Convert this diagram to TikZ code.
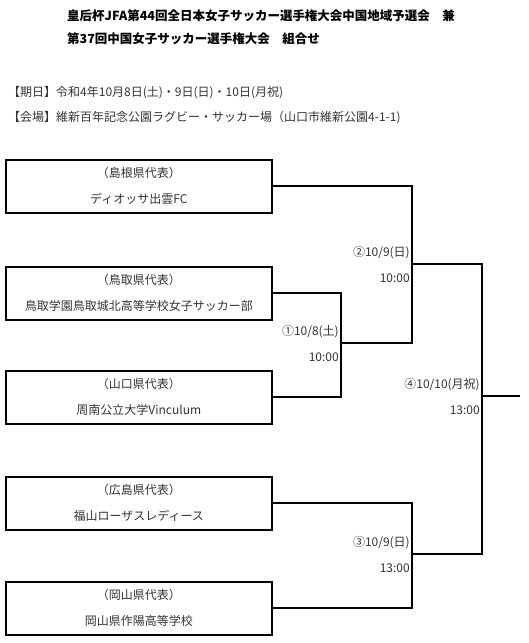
\documentclass[tikz,border=0pt]{standalone}
\usepackage{fontspec}
\setmainfont{Noto Sans CJK JP}
\usepackage{tikz}
\usetikzlibrary{positioning, calc}

\begin{document}
\begin{tikzpicture}[x=1pt, y=-1pt,
    team/.style={draw, line width=1.6pt, minimum width=266pt, minimum height=53pt,
                 anchor=north west, align=center, inner sep=0pt, text=black!80,
                 font=\fontsize{12}{26}\selectfont},
    match/.style={anchor=east, align=right, inner sep=0pt, text=black!80,
                  font=\fontsize{12}{26}\selectfont},
    info/.style={anchor=west, inner sep=0pt, text=black!80, font=\fontsize{12}{14}\selectfont},
    headline/.style={anchor=west, inner sep=0pt, font=\fontsize{12.5}{15}\selectfont\bfseries},
    bracket/.style={line width=1.8pt}]
    \useasboundingbox (0,0) rectangle (529,643);

    % Title and details
    \node[headline] (t1) at (67,16) {皇后杯JFA第44回全日本女子サッカー選手権大会中国地域予選会　兼};
    \node[headline] (t2) at (67,39) {第37回中国女子サッカー選手権大会　組合せ};
    \node[info] (date) at (8,93) {【期日】令和4年10月8日(土)・9日(日)・10日(月祝)};
    \node[info] (venue) at (8,118) {【会場】維新百年記念公園ラグビー・サッカー場（山口市維新公園4-1-1)};

    % Teams
    \node[team] (b1) at (5,159) {（島根県代表）\\ディオッサ出雲FC};
    \node[team] (b2) at (5,266) {（鳥取県代表）\\鳥取学園鳥取城北高等学校女子サッカー部};
    \node[team] (b3) at (5,370) {（山口県代表）\\周南公立大学Vinculum};
    \node[team] (b4) at (5,476) {（広島県代表）\\福山ローザスレディース};
    \node[team] (b5) at (5,581) {（岡山県代表）\\岡山県作陽高等学校};

    % Match joins
    \coordinate (m1) at (341,343);
    \coordinate (m2) at (412,264);
    \coordinate (m3) at (412,554);
    \coordinate (m4) at (482,396);
    \coordinate (win) at (520,396);

    \draw[bracket] (b2.east) -| (m1) |- (b3.east);
    \draw[bracket] (b1.east) -| (m2) |- (m1);
    \draw[bracket] (b4.east) -| (m3) |- (b5.east);
    \draw[bracket] (m2) -| (m4) |- (m3);
    \draw[bracket] (m4) -- (win);

    % Match labels
    \node[match] (l1) at ([xshift=-2pt]m1) {①10/8(土)\\10:00};
    \node[match] (l2) at ([xshift=-2pt]m2) {②10/9(日)\\10:00};
    \node[match] (l3) at ([xshift=-2pt]m3) {③10/9(日)\\13:00};
    \node[match] (l4) at ([xshift=-2pt]m4) {④10/10(月祝)\\13:00};
\end{tikzpicture}
\end{document}
